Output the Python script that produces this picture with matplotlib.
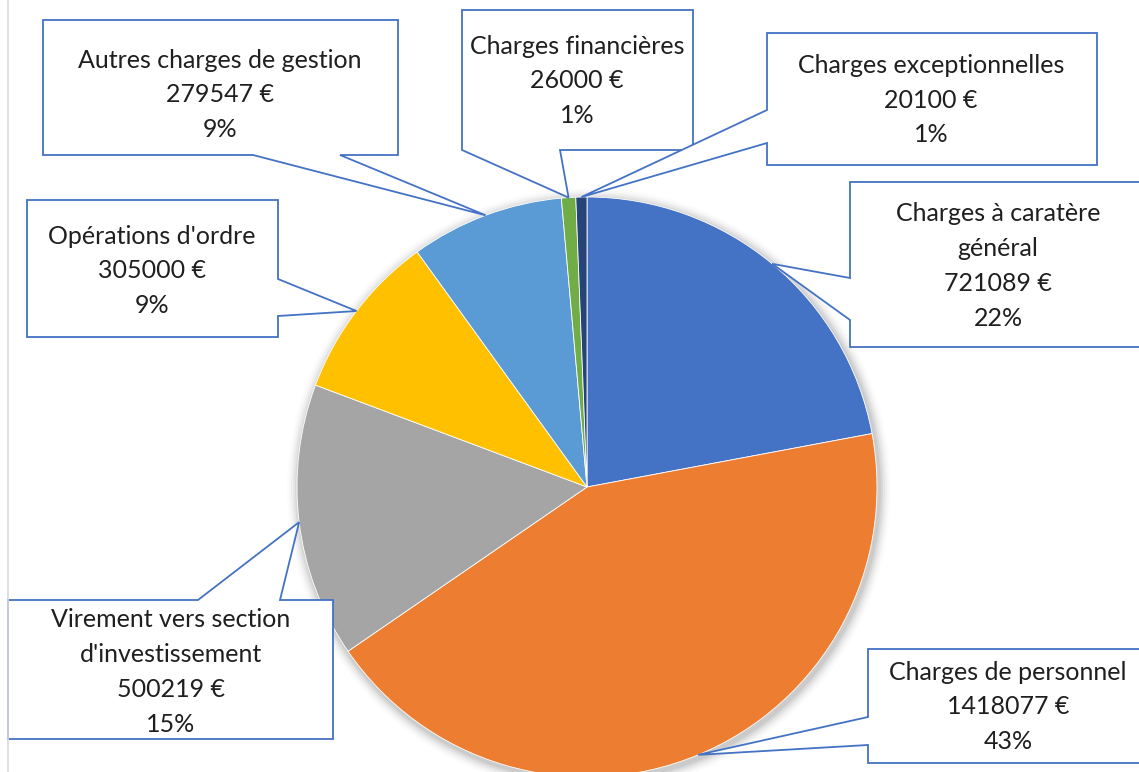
import matplotlib.pyplot as plt
import numpy as np
from matplotlib.patches import Polygon, Circle

W, H = 1139, 772

categories = [
    "Charges à caratère\ngénéral",
    "Charges de personnel",
    "Virement vers section\nd'investissement",
    "Opérations d'ordre",
    "Autres charges de gestion",
    "Charges financières",
    "Charges exceptionnelles",
]
values = [721089, 1418077, 500219, 305000, 279547, 26000, 20100]
percent_labels = ["22%", "43%", "15%", "9%", "9%", "1%", "1%"]
colors = ["#4472C4", "#ED7D31", "#A5A5A5", "#FFC000", "#5B9BD5", "#70AD47", "#264478"]

# pie geometry in pixels (y measured from top)
CX, CY, R = 587, 487, 290

# callout boxes: x0, y0, x1, y1, side of the pointer, base a, base b, text centre x, text centre y
boxes = [
    (850, 182, 1150, 347, "left", 278, 320, 998, 266),
    (868, 649, 1150, 763, "left", 717, 745, 1008, 707),
    (8, 600, 333, 739, "top", 198, 280, 171, 672),
    (27, 200, 278, 337, "right", 279, 316, 152, 271),
    (43, 20, 398, 155, "bottom", 253, 340, 220, 95),
    (462, 10, 693, 150, "bottom", 462, 560, 577, 81),
    (767, 33, 1097, 165, "left", 110, 143, 931, 100),
]


def py(y):
    return H - y


def callout(x0, y0, x1, y1, side, a, b, tip):
    if side == "top":
        pts = [(x0, y0), (a, y0), tip, (b, y0), (x1, y0), (x1, y1), (x0, y1)]
    elif side == "bottom":
        pts = [(x0, y0), (x1, y0), (x1, y1), (b, y1), tip, (a, y1), (x0, y1)]
    elif side == "left":
        pts = [(x0, y0), (x1, y0), (x1, y1), (x0, y1), (x0, b), tip, (x0, a)]
    else:
        pts = [(x0, y0), (x1, y0), (x1, a), tip, (x1, b), (x1, y1), (x0, y1)]
    return [(x, py(y)) for x, y in pts]


plt.rcParams['font.family'] = ['Lato', 'DejaVu Sans']

fig = plt.figure(figsize=(W / 100, H / 100), dpi=100)
ax = fig.add_axes([0, 0, 1, 1])

# soft shadow around the pie
for i, a in enumerate(np.linspace(0.06, 0.01, 6)):
    ax.add_patch(Circle((CX + 2, py(CY) - 3), R + 2 + i * 2, color="black", alpha=a, lw=0, zorder=0))

wedges, _ = ax.pie(values, colors=colors, startangle=90, counterclock=False,
                   center=(CX, py(CY)), radius=R,
                   wedgeprops=dict(linewidth=0.6, edgecolor="white"))

for w, cat, val, pct, box in zip(wedges, categories, values, percent_labels, boxes):
    x0, y0, x1, y1, side, a, b, tx, ty = box
    mid = np.deg2rad((w.theta1 + w.theta2) / 2)
    tip = (CX + R * np.cos(mid), CY - R * np.sin(mid))
    poly = Polygon(callout(x0, y0, x1, y1, side, a, b, tip), closed=True,
                   facecolor="white", edgecolor="#4472C4", linewidth=1.3, zorder=3)
    ax.add_patch(poly)
    label = f"{cat}\n{val} €\n{pct}"
    ax.text(tx, py(ty), label, ha="center", va="center", fontsize=18,
            color="#1f1f1f", linespacing=1.62, zorder=4)

# chart area border on the left
ax.plot([8, 8], [0, H], color="#D9D9D9", lw=1.2, zorder=5)

ax.set_xlim(0, W)
ax.set_ylim(0, H)
ax.set_aspect("equal")
ax.axis("off")

fig.savefig("out.png", dpi=100)
